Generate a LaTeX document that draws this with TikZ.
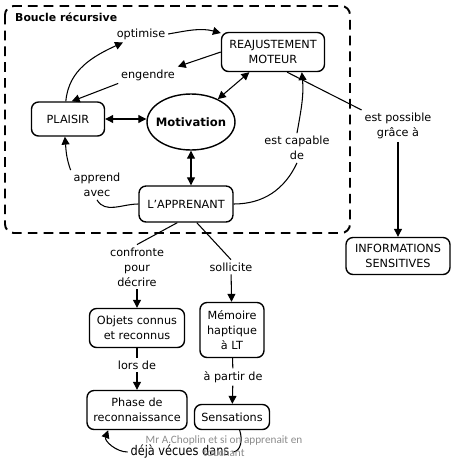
\documentclass[tikz,border=0pt]{standalone}
\usepackage{fontspec}
\setmainfont{DejaVu Sans}
\newfontfamily\markfont{Carlito}
\usetikzlibrary{arrows.meta,shapes.geometric}

\begin{document}
\begin{tikzpicture}[x=0.02cm, y=-0.02cm, >={Triangle[length=4.5pt,width=4.5pt]}, font=\fontsize{6.4}{8.6}\selectfont]
\tikzstyle{concept_style} = [rectangle, rounded corners=4pt, draw=black, line width=0.8pt, align=center, inner sep=2pt]
\tikzstyle{link_style} = [align=center, inner sep=1.5pt]
\tikzstyle{edge_style} = [draw=black, line width=0.6pt]

\useasboundingbox (0,0) rectangle (456,468);

% boucle recursive
\draw[line width=1.1pt, dash pattern=on 5.5pt off 3.5pt, rounded corners=5pt] (5,6) rectangle (350,233);
\node[anchor=west, font=\bfseries\fontsize{6.2}{8.6}\selectfont] (titre) at (9,17) {Boucle récursive};

\node[concept_style, minimum width=2.06cm, minimum height=0.78cm] (reaj) at (273,52) {REAJUSTEMENT\\MOTEUR};
\node[concept_style, minimum width=1.46cm, minimum height=0.68cm] (plai) at (68,119) {PLAISIR};
\node[ellipse, draw=black, line width=0.8pt, inner xsep=-3pt, inner ysep=0pt, minimum width=1.76cm, minimum height=1.12cm, font=\bfseries\fontsize{6.6}{8.6}\selectfont] (motiv) at (191,122) {Motivation};
\node[concept_style, minimum width=1.88cm, minimum height=0.72cm] (appr) at (186,204) {L'APPRENANT};
\node[concept_style, minimum width=2.08cm, minimum height=0.74cm] (info) at (398,256) {INFORMATIONS\\SENSITIVES};
\node[concept_style, minimum width=1.9cm, minimum height=0.78cm] (obj) at (137,328) {Objets connus\\et reconnus};
\node[concept_style, minimum width=1.28cm, minimum height=1.1cm] (mem) at (232,330) {Mémoire\\haptique\\à LT};
\node[concept_style, minimum width=2.0cm, minimum height=0.78cm] (phase) at (137,410) {Phase de\\reconnaissance};
\node[concept_style, minimum width=1.5cm, minimum height=0.5cm] (sens) at (232,417) {Sensations};

\node[link_style] (opt) at (141,34) {optimise};
\node[link_style] (eng) at (148,75) {engendre};
\node[link_style] (cap) at (297,148) {est capable\\de};
\node[link_style] (appa) at (97,185) {apprend\\avec};
\node[link_style] (poss) at (398,126) {est possible\\grâce à};
\node[link_style] (conf) at (137,267) {confronte\\pour\\décrire};
\node[link_style] (soll) at (231,267) {sollicite};
\node[link_style] (lors) at (137,365) {lors de};
\node[link_style] (apart) at (233,377) {à partir de};
\node[link_style, font=\fontsize{7.6}{9}\selectfont] (deja) at (180,452) {\scalebox{0.85}[1]{déjà vécues dans}};

\draw[edge_style, ->] (plai.97) to[out=85, in=205] (opt);
\draw[edge_style, ->] (opt.east) to[out=10, in=165] (reaj.west |- 0,33);
\draw[edge_style, ->] (reaj.west) -- (eng.north east);
\draw[edge_style, ->] (eng.south west) -- (plai.78);
\draw[edge_style, <->] (plai.east) -- (motiv.west |- plai.east);
\draw[edge_style, <->] (motiv) -- (reaj);
\draw[edge_style, <->] (motiv) -- (appr.north -| motiv);
\draw[edge_style] (appr.east) to[out=0, in=-115] (cap.south);
\draw[edge_style, ->] (cap.north) to[out=80, in=-85] (reaj.-35);
\draw[edge_style] (appr.west) to[out=180, in=-60] (appa.south);
\draw[edge_style, ->] (appa.north west) to[out=110, in=-85] (plai.-100);
\draw[edge_style] (reaj.-55) -- (poss.north west);
\draw[edge_style, ->] (poss) -- (info);
\draw[edge_style] (appr.-115) -- (conf.north);
\draw[edge_style, ->] (conf) -- (obj);
\draw[edge_style] (appr.-60) -- (soll.north);
\draw[edge_style, ->] (soll) -- (mem);
\draw[edge_style] (obj) -- (lors);
\draw[edge_style, ->] (lors) -- (phase);
\draw[edge_style] (mem) -- (apart);
\draw[edge_style, ->] (apart) -- (sens);
\draw[edge_style] (sens.-60) to[out=-70, in=0] (deja.east);
\draw[edge_style, ->] (deja.west) to[out=180, in=-110] (phase.-145);

% signature
\node[text=gray!90, font=\markfont\fontsize{6.4}{7.5}\selectfont, align=center] (sign) at (224,446) {Mr A.Choplin et si on apprenait en\\touchant};
\end{tikzpicture}
\end{document}
